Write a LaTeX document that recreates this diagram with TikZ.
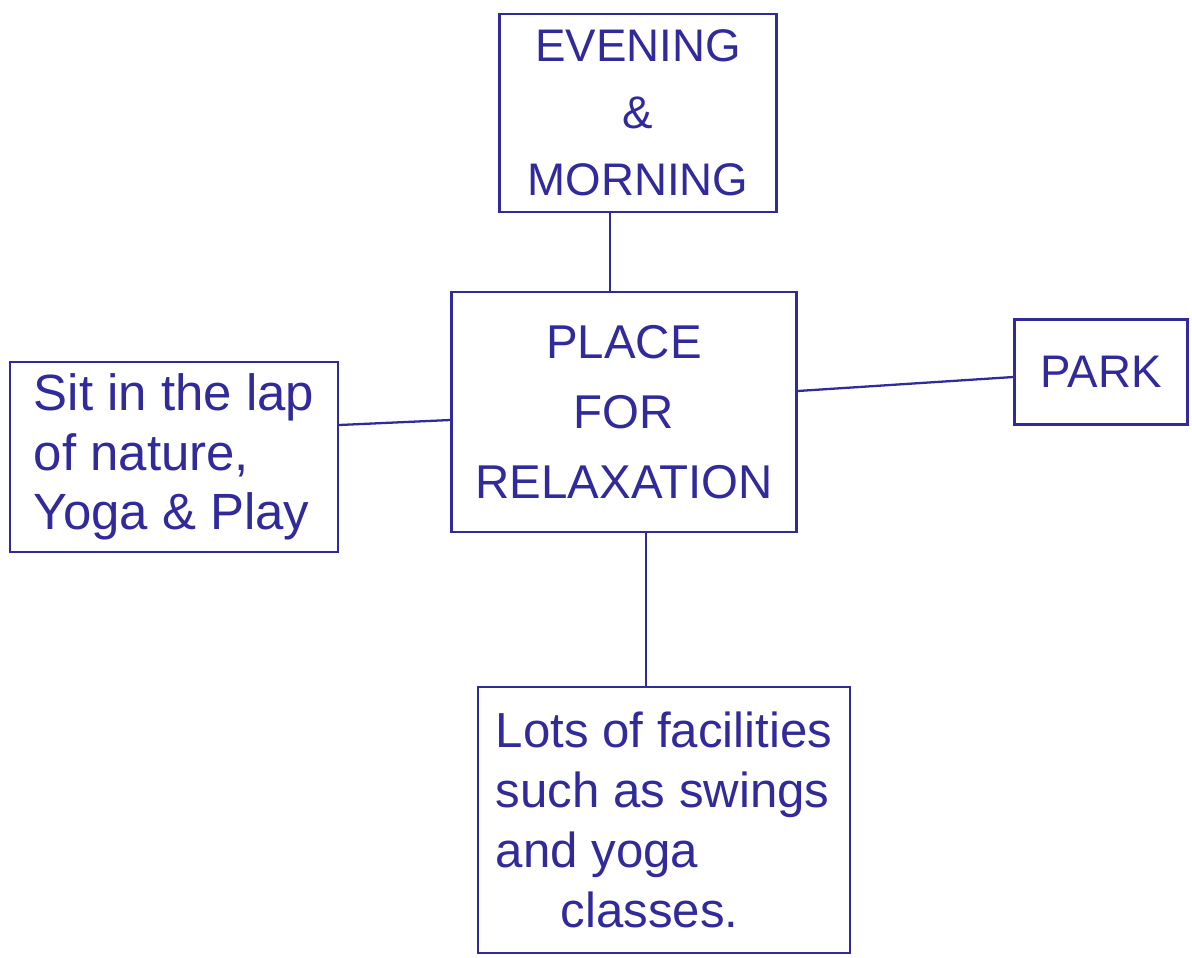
\documentclass[tikz,border=0pt]{standalone}
\usepackage{fontspec}
\setmainfont{Liberation Sans}
\definecolor{pen}{RGB}{48,42,155}
\tikzset{
  box/.style={draw=pen, line width=1.3pt, text=pen, inner sep=4pt},
  link/.style={draw=pen, line width=1.3pt},
  big/.style={font=\fontsize{26}{38}\selectfont},
  hand/.style={font=\fontsize{29}{34}\selectfont}
}
\begin{document}
\begin{tikzpicture}[x=0.02cm,y=-0.02cm]
\useasboundingbox (0,0) rectangle (1192,957);
\node[box, big, minimum width=277*0.02cm, minimum height=198*0.02cm, align=center] (top) at (638,113) {EVENING\\\&\\MORNING};
\node[box, font=\fontsize{27}{40}\selectfont, minimum width=345*0.02cm, minimum height=240*0.02cm, align=center] (ctr) at (624,412) {PLACE\\FOR\\RELAXATION};
\node[box, hand, minimum width=328*0.02cm, minimum height=190*0.02cm, align=left] (left) at (174,457) {Sit in the lap\\of nature,\\Yoga \& Play};
\node[box, big, minimum width=173*0.02cm, minimum height=105*0.02cm] (park) at (1101,372) {PARK};
\node[box, font=\fontsize{28}{34}\selectfont, minimum width=372*0.02cm, minimum height=266*0.02cm, align=left] (bot) at (664,820) {Lots of facilities\\such as swings\\and yoga\\\hspace*{1.3cm}classes.};
\coordinate (xa) at (610,0);
\coordinate (xb) at (646,0);
\coordinate (ya) at (0,425);
\coordinate (yb) at (0,420);
\coordinate (yc) at (0,391);
\coordinate (yd) at (0,377);
\draw[link] (top.south -| xa) -- (ctr.north -| xa);
\draw[link] (left.east |- ya) -- (ctr.west |- yb);
\draw[link] (ctr.east |- yc) -- (park.west |- yd);
\draw[link] (ctr.south -| xb) -- (bot.north -| xb);
\end{tikzpicture}
\end{document}
